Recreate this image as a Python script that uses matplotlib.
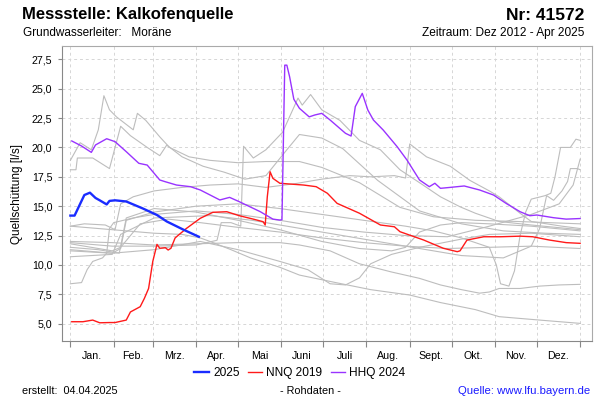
import matplotlib.pyplot as plt
from matplotlib.lines import Line2D

plt.rcParams['font.family'] = ['Liberation Sans', 'DejaVu Sans']

# day of year (0 = 1. Jan) and discharge in l/s
days_2025 = [0, 3, 6, 10, 14, 18, 21, 26, 28, 32, 40, 52, 62, 69, 81, 92]
vals_2025 = [14.2, 14.2, 14.95, 15.95, 16.15, 15.7, 15.5, 15.15, 15.45, 15.5, 15.4, 14.8,
             14.25, 13.7, 13.0, 12.4]

days_nnq = [1, 9, 16, 21, 28, 32, 40, 43, 50, 53, 56, 59, 62, 64, 68, 70, 72, 75, 83, 93, 102,
            112, 121, 131, 138, 139.5, 141, 143, 145, 150, 167, 176, 184, 191, 207, 222, 232,
            236, 253, 267, 277, 279, 284, 296, 308, 322, 331, 343, 355, 365]
vals_nnq = [5.17, 5.17, 5.31, 5.08, 5.1, 5.1, 5.31, 6.0, 6.45, 7.16, 8.0, 10.3, 11.75, 11.42,
            11.47, 11.27, 11.42, 12.3, 13.1, 13.97, 14.48, 14.53, 14.19, 13.9, 13.68, 13.4, 15.8,
            17.93, 17.37, 16.95, 16.8, 16.66, 16.1, 15.24, 14.4, 13.4, 13.25, 12.83, 12.12, 11.42,
            11.13, 11.2, 12.12, 12.4, 12.4, 12.45, 12.4, 12.12, 11.9, 11.84]

days_hhq = [1, 8, 15, 18, 26, 32, 40, 49, 55, 64, 68, 76, 86, 93, 107, 114, 121, 136, 145, 150,
            151.5, 153.5, 155, 157, 160, 164, 171, 175, 180, 186, 197, 201, 204, 209, 213, 217,
            224, 234, 241, 250, 257, 261, 265, 272, 282, 293, 303, 312, 322, 329, 334, 346, 355,
            365]
vals_hhq = [20.55, 20.12, 19.58, 20.21, 20.74, 20.49, 19.64, 18.65, 18.5, 17.23, 17.08, 16.8,
            16.66, 16.38, 15.53, 15.75, 15.38, 14.53, 13.9, 13.82, 13.85, 27.0, 27.0, 26.0, 24.1,
            23.33, 22.6, 22.76, 22.9, 22.33, 21.2, 20.97, 23.47, 24.6, 23.18, 22.33, 21.48, 20.06,
            18.93, 17.23, 16.66, 16.95, 16.52, 16.6, 16.72, 16.38, 15.95, 15.24, 14.53, 14.19,
            14.25, 14.02, 13.9, 13.95]

# other years (grey)
g1_days = [0, 7, 15, 20, 24, 28, 33, 45, 48, 54, 64, 71, 85, 100, 120, 140, 164, 180, 207, 236,
           260, 290, 320, 365]
g1_vals = [18.9, 20.4, 19.8, 21.5, 24.4, 23.2, 22.6, 21.5, 22.9, 22.3, 20.9, 20.0, 19.2, 18.9,
           18.7, 18.8, 18.8, 18.3, 17.0, 14.9, 14.1, 13.8, 13.7, 13.5]
g2_days = [0, 4, 5, 16, 28, 36, 43, 55, 64, 69, 80, 95, 110, 125, 140, 155, 164, 180, 195, 220,
           250, 280, 310, 340, 365]
g2_vals = [18.1, 18.1, 19.1, 19.1, 18.2, 21.8, 21.0, 20.0, 19.3, 20.2, 19.2, 18.4, 17.9, 17.3,
           17.6, 19.8, 21.1, 20.8, 19.9, 17.2, 14.6, 13.5, 12.9, 12.7, 12.6]
g3_days = [0, 30, 60, 90, 105, 108, 115, 122, 124, 131, 140, 152, 163, 166, 172, 180, 193, 207,
           222, 236, 250, 265, 279, 290, 307, 330, 365]
g3_vals = [11.9, 11.6, 11.6, 11.7, 12.1, 13.6, 13.6, 13.3, 20.1, 19.1, 19.8, 21.3, 24.2, 23.6,
           24.5, 23.2, 22.3, 20.6, 19.8, 18.1, 17.0, 15.8, 14.95, 14.4, 13.7, 13.4, 13.0]
g4_days = [0, 10, 25, 32, 36, 45, 60, 80, 100, 120, 140, 160, 180, 200, 215, 232, 240, 243, 255,
           272, 286, 300, 307, 322, 330, 352, 365]
g4_vals = [13.3, 13.5, 13.4, 13.0, 15.2, 15.8, 16.3, 16.6, 16.8, 16.9, 16.6, 16.9, 17.3, 17.6,
           17.5, 17.6, 17.4, 20.3, 19.2, 18.4, 17.2, 16.3, 15.8, 14.4, 13.7, 13.3, 13.1]
g5_days = [0, 30, 36, 40, 60, 90, 120, 150, 180, 210, 240, 260, 280, 300, 305, 308, 314, 318,
           322, 326, 330, 340, 344, 347, 351, 358, 362, 365]
g5_vals = [11.3, 11.0, 11.4, 13.8, 14.5, 15.0, 15.2, 14.8, 14.3, 13.8, 13.3, 12.9, 12.3, 11.5,
           10.0, 8.4, 8.2, 9.5, 12.5, 14.5, 15.6, 15.9, 16.1, 17.5, 20.0, 20.0, 20.7, 20.6]
g6_days = [0, 30, 36, 60, 100, 130, 160, 200, 240, 280, 310, 330, 336, 341, 346, 352, 356, 358,
           363, 365]
g6_vals = [10.7, 10.9, 12.6, 14.0, 14.2, 13.8, 13.2, 12.4, 11.6, 10.8, 10.6, 11.6, 13.1, 15.9,
           15.5, 16.3, 17.1, 18.2, 18.2, 18.1]
g7_days = [0, 8, 12, 16, 23, 26, 28, 31, 45, 60, 90, 120, 150, 180, 210, 240, 270, 300, 330,
           350, 360, 365]
g7_vals = [8.4, 8.5, 9.6, 10.3, 10.6, 11.0, 13.1, 13.6, 14.0, 14.3, 14.6, 14.3, 13.8, 13.2,
           12.8, 12.5, 12.4, 13.3, 14.3, 15.2, 16.8, 19.0]
g8_days = [0, 30, 60, 90, 120, 150, 164, 186, 207, 230, 250, 265, 280, 293, 300, 307, 322, 336,
           350, 365]
g8_vals = [12.0, 11.9, 11.7, 11.8, 11.9, 11.9, 11.7, 11.2, 10.1, 9.4, 8.86, 8.3, 7.9, 7.6, 7.7,
           8.0, 8.0, 8.2, 8.3, 8.35]
g9_days = [0, 30, 60, 80, 93, 100, 115, 129, 150, 164, 190, 215, 243, 265, 290, 307, 336, 365]
g9_vals = [13.3, 13.0, 12.7, 12.6, 12.3, 12.0, 11.3, 10.6, 9.8, 9.14, 8.5, 7.9, 7.44, 6.8, 6.2,
           5.6, 5.31, 5.03]
g10_days = [0, 20, 30, 36, 50, 70, 93, 120, 150, 180, 210, 240, 270, 300, 330, 365]
g10_vals = [11.8, 11.4, 11.2, 11.5, 13.5, 13.9, 13.6, 13.2, 12.8, 12.3, 11.9, 11.6, 11.4, 11.5,
            11.6, 11.4]
g11_days = [0, 20, 35, 40, 60, 90, 120, 150, 180, 207, 230, 240, 250, 265, 280, 300, 330, 365]
g11_vals = [11.5, 11.3, 11.0, 14.0, 14.8, 14.5, 13.8, 13.0, 12.0, 11.4, 11.2, 11.5, 12.8, 13.4,
            13.6, 13.5, 13.3, 12.9]
g12_days = [0, 30, 60, 93, 120, 150, 170, 186, 197, 207, 215, 230, 250, 280, 300, 330, 365]
g12_vals = [11.2, 11.0, 11.3, 12.0, 11.3, 10.3, 9.6, 8.4, 8.3, 8.9, 10.1, 10.9, 11.5, 12.2, 12.6,
            12.7, 12.4]

grey_days = [g1_days, g2_days, g3_days, g4_days, g5_days, g6_days, g7_days, g8_days, g9_days,
             g10_days, g11_days, g12_days]
grey_vals = [g1_vals, g2_vals, g3_vals, g4_vals, g5_vals, g6_vals, g7_vals, g8_vals, g9_vals,
             g10_vals, g11_vals, g12_vals]

month_starts = [0, 31, 59, 90, 120, 151, 181, 212, 243, 273, 304, 334, 365]
month_names = ["Jan.", "Feb.", "Mrz.", "Apr.", "Mai", "Juni", "Juli", "Aug.", "Sept.", "Okt.",
               "Nov.", "Dez."]
yticks = [5.0, 7.5, 10.0, 12.5, 15.0, 17.5, 20.0, 22.5, 25.0, 27.5]

fig = plt.figure(figsize=(6, 4), dpi=100)
ax = fig.add_axes([62 / 600, 59 / 400, 530 / 600, 295 / 400])

for d, v in zip(grey_days, grey_vals):
    ax.plot(d, v, color='#bdbdbd', lw=0.8, zorder=2)
ax.plot(days_nnq, vals_nnq, color='#ff1a1a', lw=1.0, zorder=3)
ax.plot(days_hhq, vals_hhq, color='#9933ff', lw=1.0, zorder=3)
ax.plot(days_2025, vals_2025, color='#1a2cff', lw=1.7, zorder=4)

ax.set_xlim(-6, 373.5)
ax.set_ylim(3.53, 28.63)
ax.set_xticks(month_starts)
ax.set_xticklabels([])
ax.set_xticks([(a + b) / 2 for a, b in zip(month_starts[:-1], month_starts[1:])], minor=True)
ax.set_xticklabels(month_names, minor=True, fontsize=7.7)
ax.tick_params(axis='x', which='major', length=4, color='#888888', direction='out')
ax.tick_params(axis='x', which='minor', length=0, pad=7)
ax.set_yticks(yticks)
ax.set_yticklabels([("%.1f" % t).replace('.', ',') for t in yticks], fontsize=7.7)
ax.tick_params(axis='y', length=3, color='#888888', pad=4)
ax.grid(True, which='major', color='#d6d6d6', ls=(0, (3, 3)), lw=0.7)
for s in ax.spines.values():
    s.set_color('#aaaaaa')
ax.spines['left'].set_color('#888888')
ax.spines['bottom'].set_color('#888888')
ax.set_ylabel("Quellschüttung [l/s]", fontsize=8.5, labelpad=6)

# header
fig.text(22.5 / 600, 1 - 15 / 400, "Messstelle: Kalkofenquelle", fontsize=12, fontweight='bold',
         va='center', ha='left')
fig.text(584 / 600, 1 - 15 / 400, "Nr: 41572", fontsize=12.5, fontweight='bold', va='center',
         ha='right')
fig.text(23 / 600, 1 - 33 / 400, "Grundwasserleiter:   Moräne", fontsize=8.5, va='center',
         ha='left')
fig.text(584 / 600, 1 - 33 / 400, "Zeitraum: Dez 2012 - Apr 2025", fontsize=8.6, va='center',
         ha='right')

# legend
handles = [Line2D([], [], color='#1a2cff', lw=1.7),
           Line2D([], [], color='#ff1a1a', lw=1.0),
           Line2D([], [], color='#9933ff', lw=1.0)]
fig.legend(handles, ["2025", "NNQ 2019", "HHQ 2024"], loc='center', ncol=3,
           bbox_to_anchor=(0.5, 1 - 373 / 400), frameon=False, fontsize=8.6,
           handlelength=1.2, handletextpad=0.35, columnspacing=0.7)

# footer
fig.text(22 / 600, 1 - 391 / 400, "erstellt:  04.04.2025", fontsize=7.8, va='center', ha='left')
fig.text(310 / 600, 1 - 391 / 400, "- Rohdaten -", fontsize=7.8, va='center', ha='center')
fig.text(590 / 600, 1 - 391 / 400, "Quelle: www.lfu.bayern.de", fontsize=8.2, va='center',
         ha='right', color='#1a1aff')

fig.savefig("out.png", dpi=100)
